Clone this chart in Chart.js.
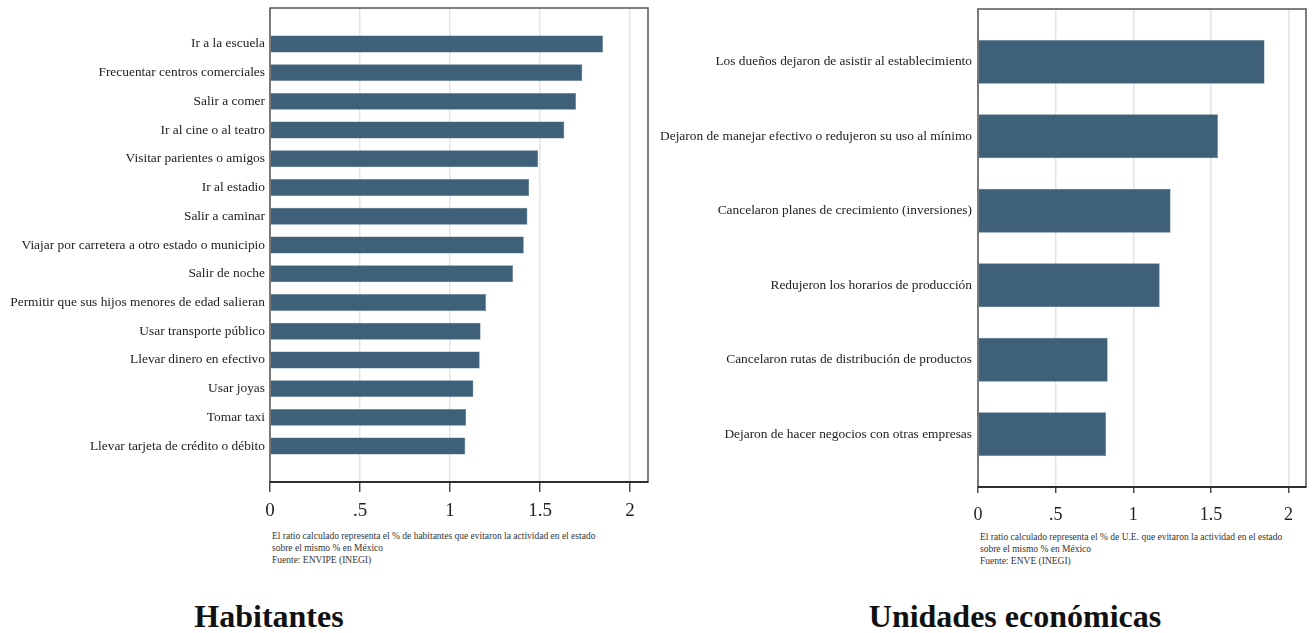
<!DOCTYPE html>
<html>
<head>
<meta charset="utf-8">
<script src="https://cdn.jsdelivr.net/npm/chart.js@4"></script>
<style>
  body { margin: 0; background: #fff; width: 1316px; height: 633px; position: relative; overflow: hidden; }
  .wrap { position: absolute; top: 0; }
  .note { position: absolute; font-family: "Liberation Serif", serif; font-size: 9.5px; line-height: 12px; color: #333; white-space: nowrap; }
  .title { position: absolute; font-family: "Liberation Serif", serif; font-weight: bold; font-size: 32px; line-height: 36px; color: #111; transform: translateX(-50%); white-space: nowrap; }
</style>
</head>
<body>
<div class="wrap" style="left:0;width:660px;height:530px"><canvas id="chartHab"></canvas></div>
<div class="wrap" style="left:660px;width:656px;height:530px"><canvas id="chartUE"></canvas></div>

<div class="note" style="left:272px;top:530px">El ratio calculado representa el % de habitantes que evitaron la actividad en el estado<br>sobre el mismo % en México<br>Fuente: ENVIPE (INEGI)</div>
<div class="note" style="left:980px;top:531px">El ratio calculado representa el % de U.E. que evitaron la actividad en el estado<br>sobre el mismo % en México<br>Fuente: ENVE (INEGI)</div>

<div class="title" style="left:269px;top:598px">Habitantes</div>
<div class="title" style="left:1015px;top:598px">Unidades económicas</div>

<script>
// datos
const habLabels = [
  'Ir a la escuela',
  'Frecuentar centros comerciales',
  'Salir a comer',
  'Ir al cine o al teatro',
  'Visitar parientes o amigos',
  'Ir al estadio',
  'Salir a caminar',
  'Viajar por carretera a otro estado o municipio',
  'Salir de noche',
  'Permitir que sus hijos menores de edad salieran',
  'Usar transporte público',
  'Llevar dinero en efectivo',
  'Usar joyas',
  'Tomar taxi',
  'Llevar tarjeta de crédito o débito'
];
const habValues = [1.85, 1.735, 1.70, 1.635, 1.49, 1.44, 1.43, 1.41, 1.35, 1.20, 1.17, 1.165, 1.13, 1.09, 1.085];

const ueLabels = [
  'Los dueños dejaron de asistir al establecimiento',
  'Dejaron de manejar efectivo o redujeron su uso al mínimo',
  'Cancelaron planes de crecimiento (inversiones)',
  'Redujeron los horarios de producción',
  'Cancelaron rutas de distribución de productos',
  'Dejaron de hacer negocios con otras empresas'
];
const ueValues = [1.845, 1.545, 1.24, 1.17, 0.835, 0.825];

const xTicks = [0, 0.5, 1, 1.5, 2];
const xTickLabels = ['0', '.5', '1', '1.5', '2'];

const barColor = '#3e6179';
const serif = '"Liberation Serif", "DejaVu Serif", serif';

// marco alrededor del area del grafico
const framePlugin = {
  id: 'frame',
  afterDatasetsDraw(chart) {
    const a = chart.chartArea;
    const ctx = chart.ctx;
    ctx.save();
    ctx.strokeStyle = '#555';
    ctx.lineWidth = 1.5;
    ctx.strokeRect(a.left, a.top, a.right - a.left, a.bottom - a.top);
    ctx.beginPath();
    ctx.strokeStyle = '#222';
    ctx.moveTo(a.left, a.bottom);
    ctx.lineTo(a.right, a.bottom);
    ctx.stroke();
    ctx.restore();
  }
};

function makeChart(id, labels, values, s) {
  const n = labels.length;
  return new Chart(document.getElementById(id), {
    type: 'bar',
    data: {
      datasets: [{
        data: values.map((v, i) => ({ x: v, y: i })),
        backgroundColor: barColor,
        borderColor: '#5b7a90',
        borderWidth: 0.5,
        barPercentage: 0.59,
        categoryPercentage: 1
      }]
    },
    options: {
      indexAxis: 'y',
      animation: false,
      responsive: true,
      maintainAspectRatio: false,
      layout: { padding: { top: s.top, right: s.right, left: 0, bottom: 0 } },
      plugins: { legend: { display: false }, tooltip: { enabled: false } },
      scales: {
        y: {
          type: 'linear',
          reverse: true,
          offset: false,
          min: -s.pad,
          max: n - 1 + s.pad,
          afterFit(scale) {
            scale.width = s.yWidth;
            scale.paddingTop = 0;
            scale.paddingBottom = 0;
          },
          afterBuildTicks(scale) { scale.ticks = labels.map((_, i) => ({ value: i })); },
          grid: { display: false, drawTicks: false },
          border: { display: false },
          ticks: {
            padding: s.labelPad,
            color: '#222',
            font: { family: serif, size: 13.4 },
            callback: (v) => labels[v]
          }
        },
        x: {
          type: 'linear',
          min: 0,
          max: s.xMax,
          afterFit(scale) { scale.height = s.xHeight; },
          afterBuildTicks(scale) { scale.ticks = xTicks.map(v => ({ value: v })); },
          grid: {
            color: '#e4e4e4',
            lineWidth: 1.5,
            tickColor: '#333',
            tickLength: s.tickLen,
            tickWidth: 1.3
          },
          border: { display: true, color: '#222', width: 1.5 },
          ticks: {
            padding: s.tickPad,
            maxRotation: 0,
            color: '#222',
            font: { family: serif, size: s.tickSize },
            callback: (v) => xTickLabels[xTicks.indexOf(v)]
          }
        }
      }
    },
    plugins: [framePlugin]
  });
}

makeChart('chartHab', habLabels, habValues, {
  top: 8, right: 12, yWidth: 270, xHeight: 48, xMax: 2.1,
  pad: 1.25, labelPad: 5, tickLen: 10, tickPad: 8, tickSize: 19
});

makeChart('chartUE', ueLabels, ueValues, {
  top: 9, right: 10, yWidth: 318, xHeight: 43, xMax: 2.112,
  pad: 0.71, labelPad: 6, tickLen: 6, tickPad: 11, tickSize: 18
});
</script>
</body>
</html>
